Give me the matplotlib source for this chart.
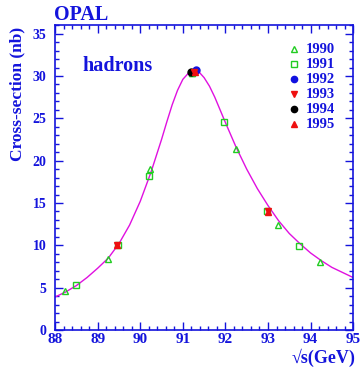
import matplotlib
matplotlib.use("Agg")
import matplotlib.pyplot as plt
from matplotlib.ticker import MultipleLocator

BLUE = "#1414DC"
plt.rcParams['font.family'] = ['Liberation Serif', 'DejaVu Serif']

# Fit curve
curve_x = [88.0, 88.25, 88.5, 88.75, 89.0, 89.25, 89.5, 89.75, 90.0, 90.25, 90.5,
           90.625, 90.75, 90.875, 91.0, 91.125, 91.25, 91.375, 91.5, 91.625, 91.75,
           91.875, 92.0, 92.25, 92.5, 92.75, 93.0, 93.25, 93.5, 93.75, 94.0, 94.25,
           94.5, 94.75, 95.0]
curve_y = [3.9, 4.5, 5.25, 6.2, 7.3, 8.5, 10.2, 12.4, 15.2, 18.6, 22.5,
           24.6, 26.6, 28.3, 29.6, 30.3, 30.6, 30.5, 29.8, 28.8, 27.5,
           26.0, 24.5, 21.6, 19.0, 16.7, 14.7, 12.9, 11.4, 10.2, 9.1, 8.2,
           7.4, 6.8, 6.2]

x1990 = [88.23, 89.24, 90.23, 91.22, 92.25, 93.23, 94.22]
y1990 = [4.6, 8.4, 19.0, 30.4, 21.4, 12.4, 8.0]
x1991 = [88.48, 89.48, 90.21, 91.22, 91.97, 92.97, 93.73]
y1991 = [5.3, 10.0, 18.2, 30.3, 24.6, 14.0, 9.9]
x1992 = [91.3]
y1992 = [30.7]
x1993 = [89.46, 91.27, 93.0]
y1993 = [10.1, 30.5, 14.1]
x1994 = [91.2]
y1994 = [30.5]
x1995 = [89.45, 91.28, 93.0]
y1995 = [10.0, 30.5, 13.9]

years = ["1990", "1991", "1992", "1993", "1994", "1995"]

fig = plt.figure(figsize=(3.6, 3.7), dpi=100)
ax = fig.add_axes([0.153, 0.108, 0.828, 0.824])

ax.plot(curve_x, curve_y, color="#E010E0", lw=1.0, zorder=2)

GREEN = "#22CC22"
ms = 5
ax.plot(x1990, y1990, ls="none", marker="^", mfc="none", mec=GREEN, ms=ms, mew=1.0, zorder=3)
ax.plot(x1991, y1991, ls="none", marker="s", mfc="none", mec=GREEN, ms=ms - 0.5, mew=1.0, zorder=3)
ax.plot(x1994, y1994, ls="none", marker="o", color="black", ms=ms, zorder=4)
ax.plot(x1992, y1992, ls="none", marker="o", color="#1010E0", ms=ms, zorder=4)
ax.plot(x1993, y1993, ls="none", marker="v", color="#EE1010", ms=ms, zorder=5)
ax.plot(x1995, y1995, ls="none", marker="^", color="#EE1010", ms=ms, zorder=5)

ax.set_xlim(88, 95)
ax.set_ylim(0, 36)
ax.xaxis.set_major_locator(MultipleLocator(1))
ax.xaxis.set_minor_locator(MultipleLocator(0.2))
ax.yaxis.set_major_locator(MultipleLocator(5))
ax.yaxis.set_minor_locator(MultipleLocator(1))
ax.tick_params(which="both", direction="in", top=True, right=True, color=BLUE, width=1.0)
ax.tick_params(which="major", length=6)
ax.tick_params(which="minor", length=3)
ax.tick_params(axis="x", labelsize=11, labelcolor=BLUE, pad=2)
ax.tick_params(axis="y", labelsize=10, labelcolor=BLUE, pad=6)
for lab in ax.get_xticklabels() + ax.get_yticklabels():
    lab.set_fontweight("bold")
for sp in ax.spines.values():
    sp.set_color(BLUE)
    sp.set_linewidth(1.2)

ax.set_ylabel("Cross-section (nb)", color=BLUE, fontsize=12.5, fontweight="bold")
ax.yaxis.set_label_coords(-0.10, 0.775)
fig.text(0.988, 0.008, "\u221As(GeV)", color=BLUE, fontsize=13, fontweight="bold", ha="right", va="bottom")
fig.text(0.150, 0.933, "OPAL", color=BLUE, fontsize=14.5, fontweight="bold", ha="left", va="bottom")
ax.text(0.093, 0.865, "hadrons", transform=ax.transAxes, color=BLUE, fontsize=14.5,
        fontweight="bold", ha="left", va="center")

# legend
leg_markers = [dict(marker="^", mfc="none", mec=GREEN, mew=1.0),
               dict(marker="s", mfc="none", mec=GREEN, mew=1.0),
               dict(marker="o", color="#1010E0"),
               dict(marker="v", color="#EE1010"),
               dict(marker="o", color="black"),
               dict(marker="^", color="#EE1010")]
y0 = 1 - (49 - 25) / 305
dy = 15 / 305
for i, (yr, mk) in enumerate(zip(years, leg_markers)):
    yy = y0 - i * dy
    ax.plot([(294 - 55) / 298], [yy], ls="none", ms=4.5, transform=ax.transAxes, clip_on=False, **mk)
    ax.text((306 - 55) / 298, yy, yr, transform=ax.transAxes, color=BLUE, fontsize=10.5,
            fontweight="bold", ha="left", va="center")

fig.savefig("out.png", dpi=100)
